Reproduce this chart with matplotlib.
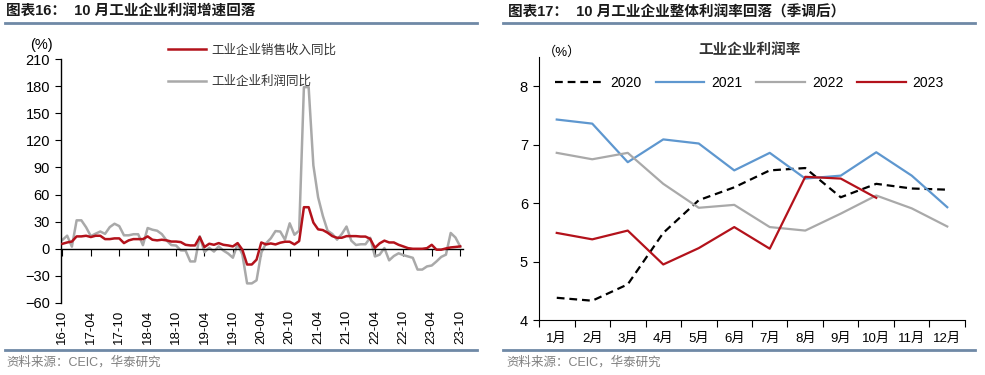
import matplotlib
matplotlib.use("Agg")
import matplotlib.pyplot as plt
from matplotlib.lines import Line2D

plt.rcParams['font.family'] = ['Liberation Sans', 'Noto Sans CJK SC', 'DejaVu Sans']

# ---------------- data: left chart ----------------
tick_labels_left = ["16-10", "17-04", "17-10", "18-04", "18-10", "19-04", "19-10",
                    "20-04", "20-10", "21-04", "21-10", "22-04", "22-10", "23-04", "23-10"]
revenue_yoy = [5.5, 7, 8,
               13.7, 13.7, 14.4, 13, 14.4, 14.4, 10.7, 10.7, 11.5, 11.5, 6.3, 9.3,
               10.7, 10.7, 10.7, 13.7, 10, 9.3, 10, 9.3, 8, 8, 7.4, 4.4,
               3.7, 3.7, 13, 1.9, 5.6, 4.4, 6.3, 4.4, 3.7, 2.6, 6.3, -1,
               -17.4, -17.4, -12, 7, 4.8, 5.9, 4.8, 6.7, 7.8, 7.8, 4.8, 8.5,
               46, 46, 29, 21.5, 20.7, 17.8, 14, 12.2, 12.2, 14, 14, 14,
               13.5, 13.5, 11, 1, 6, 9, 7, 7, 4.4, 2.6, 0.7, 0,
               0, 0, 0.7, 4.4, -1, -1, 0.4, 1.5, 2, 2.6]
profit_yoy = [9.8, 14.5, 2.3,
              31.5, 31.5, 23.8, 14.0, 16.7, 19.1, 16.5, 24.0, 27.7, 25.1, 14.9, 14.9,
              16.1, 16.1, 4, 23, 21.1, 20.0, 16.2, 9.2, 4.1, 3.6, -1.8, -1.9,
              -14, -14, 13.9, -3.7, 1.1, -3.1, 2.6, -2.0, -5.3, -9.9, 5.4, -6.3,
              -38.3, -38.3, -34.9, -4.3, 6.0, 11.5, 19.6, 19.1, 10.1, 28.2, 15.5, 20.1,
              178.9, 178.9, 92.3, 57.0, 36.4, 20.0, 16.4, 10.1, 16.3, 24.6, 9.0, 4.2,
              5.0, 5.0, 12.2, -8.5, -6.5, 0.8, -12.8, -8, -5, -7, -8.5, -10,
              -23, -23, -19.5, -18.5, -14, -9, -6.5, 17.5, 12.5, 2.7]
label_revenue = "工业企业销售收入同比"
label_profit = "工业企业利润同比"

# ---------------- data: right chart ----------------
months = ["1月", "2月", "3月", "4月", "5月", "6月", "7月", "8月", "9月", "10月", "11月", "12月"]
margin_2020 = [4.38, 4.33, 4.61, 5.49, 6.05, 6.27, 6.56, 6.60, 6.10, 6.33, 6.25, 6.23]
margin_2021 = [7.43, 7.36, 6.70, 7.09, 7.02, 6.56, 6.86, 6.42, 6.47, 6.87, 6.47, 5.93]
margin_2022 = [6.86, 6.75, 6.86, 6.33, 5.92, 5.97, 5.59, 5.53, 5.82, 6.13, 5.91, 5.60]
margin_2023 = [5.49, 5.38, 5.53, 4.95, 5.23, 5.59, 5.22, 6.45, 6.42, 6.09]

W, H = 985, 375
fig = plt.figure(figsize=(W / 100, H / 100), dpi=100)


def fx(x):
    return x / W


def fy(y):
    return 1 - y / H


def axes_px(x0, y0, x1, y1):
    return fig.add_axes([fx(x0), fy(y1), (x1 - x0) / W, (y1 - y0) / H])


title_color = "#1a1a1a"
rule_color = "#6F89A6"
src_color = "#808080"
txt_color = "#333333"

# ---------------- titles / rules / sources ----------------
fig.text(fx(6), fy(12), "图表16：  10 月工业企业利润增速回落", fontsize=10.5,
         fontweight="bold", color=title_color, va="center", ha="left")
fig.text(fx(508), fy(12), "图表17：  10 月工业企业整体利润率回落（季调后）", fontsize=10.5,
         fontweight="bold", color=title_color, va="center", ha="left")
for (a, b) in [(5, 477), (503, 975)]:
    fig.add_artist(Line2D([fx(a), fx(b)], [fy(23), fy(23)], color=rule_color, lw=2))
    fig.add_artist(Line2D([fx(a), fx(b)], [fy(350), fy(350)], color=rule_color, lw=2))
fig.text(fx(6), fy(362), "资料来源：CEIC，华泰研究", fontsize=9, color=src_color,
         va="center", ha="left")
fig.text(fx(506), fy(362), "资料来源：CEIC，华泰研究", fontsize=9, color=src_color,
         va="center", ha="left")

# ---------------- left chart ----------------
axL = axes_px(61, 59, 463, 303)
n = len(profit_yoy)
xs = list(range(n))
axL.plot(xs, profit_yoy, color="#A9A9A9", lw=1.8, label=label_profit, zorder=2)
axL.plot(xs, revenue_yoy, color="#B3121B", lw=1.8, label=label_revenue, zorder=3)
axL.set_xlim(-0.3, 84.6)
axL.set_ylim(-60, 210)
axL.set_yticks(range(-60, 211, 30))
axL.tick_params(axis="y", direction="out", length=4, labelsize=10.5, colors="black", pad=4)
axL.spines["top"].set_visible(False)
axL.spines["right"].set_visible(False)
axL.spines["bottom"].set_position(("data", 0))
axL.spines["left"].set_linewidth(1)
axL.spines["bottom"].set_linewidth(1)
axL.set_xticks(range(0, n, 6))
axL.set_xticklabels(tick_labels_left, rotation=90, fontsize=9.5)
axL.tick_params(axis="x", direction="out", length=5, pad=39)
fig.text(fx(41), fy(45), "(%)", fontsize=10.5, ha="center", va="center")
handles, labels = axL.get_legend_handles_labels()
legL = axL.legend(handles[::-1], labels[::-1], loc="upper left",
                  bbox_to_anchor=(fx(168), fy(44)), bbox_transform=fig.transFigure,
                  frameon=False, fontsize=9, handlelength=3.0, handletextpad=0.5,
                  labelspacing=1.55, borderpad=0, borderaxespad=0)
for t in legL.get_texts():
    t.set_color(txt_color)

# ---------------- right chart ----------------
axR = axes_px(539, 57, 965, 320)
cx = [i + 0.5 for i in range(len(months))]
axR.plot(cx, margin_2020, color="black", lw=1.6, ls=(0, (3.5, 2.2)), label="2020")
axR.plot(cx, margin_2021, color="#5E97CF", lw=1.6, label="2021")
axR.plot(cx, margin_2022, color="#A9A9A9", lw=1.6, label="2022")
axR.plot(cx[:len(margin_2023)], margin_2023, color="#B3121B", lw=1.6, label="2023")
axR.set_xlim(0, 12)
axR.set_ylim(4, 8.5)
axR.set_yticks([4, 5, 6, 7, 8])
axR.set_xticks(range(0, 13))
axR.set_xticklabels([])
axR.set_xticks(cx, minor=True)
axR.set_xticklabels(months, minor=True, fontsize=9.5)
axR.tick_params(axis="x", which="major", direction="out", length=5)
axR.tick_params(axis="x", which="minor", length=0, pad=9)
axR.tick_params(axis="y", direction="out", length=4, labelsize=10.5, pad=4)
axR.spines["top"].set_visible(False)
axR.spines["right"].set_visible(False)
fig.text(fx(562), fy(52), "（%）", fontsize=9.5, ha="center", va="center")
fig.text(fx(750), fy(50), "工业企业利润率", fontsize=10.5, fontweight="bold",
         ha="center", va="center", color=txt_color)
legR = axR.legend(loc="upper left", ncol=4, bbox_to_anchor=(fx(555), fy(76)),
                  bbox_transform=fig.transFigure, frameon=False, fontsize=10,
                  handlelength=3.5, handletextpad=0.5, columnspacing=1.0,
                  borderpad=0, borderaxespad=0)

fig.savefig("out.png", dpi=100)
